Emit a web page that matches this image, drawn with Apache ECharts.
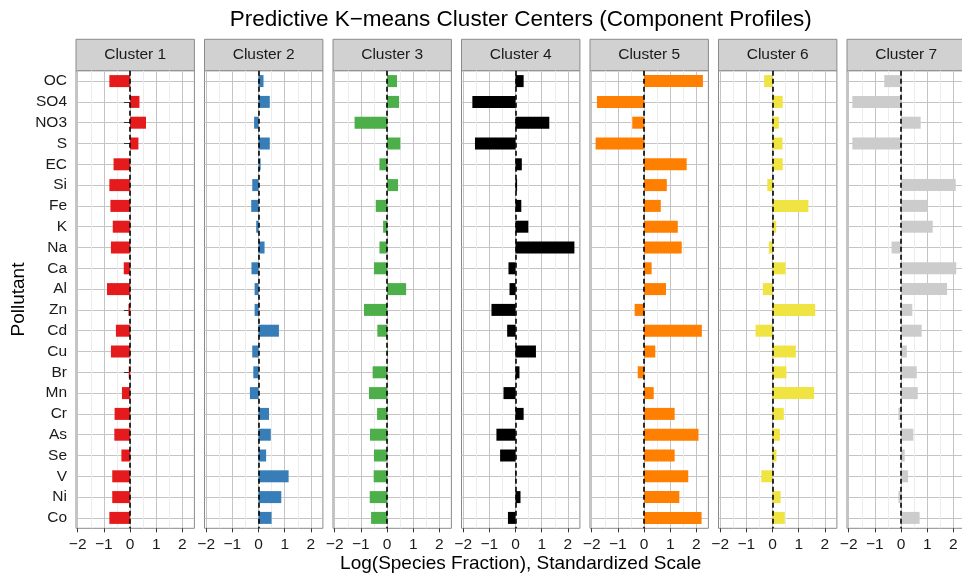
<!DOCTYPE html>
<html>
<head>
<meta charset="utf-8">
<script src="https://cdn.jsdelivr.net/npm/echarts@6/dist/echarts.min.js"></script>
<style>
html,body{margin:0;padding:0;background:#fff;overflow:hidden;width:962px;height:574px;}
#chart{width:972px;height:574px;}
</style>
</head>
<body>
<div id="chart"></div>
<script>
const pollutants = ['OC','SO4','NO3','S','EC','Si','Fe','K','Na','Ca','Al','Zn','Cd','Cu','Br','Mn','Cr','As','Se','V','Ni','Co'];
const clusterNames = ['Cluster 1','Cluster 2','Cluster 3','Cluster 4','Cluster 5','Cluster 6','Cluster 7'];
const cluster1 = [-0.79,0.36,0.61,0.32,-0.63,-0.79,-0.75,-0.66,-0.73,-0.24,-0.88,-0.06,-0.54,-0.73,-0.05,-0.31,-0.59,-0.60,-0.33,-0.68,-0.68,-0.79];
const cluster2 = [0.19,0.43,-0.17,0.43,0.08,-0.24,-0.28,-0.09,0.23,-0.27,-0.15,-0.15,0.78,-0.24,-0.20,-0.33,0.40,0.47,0.29,1.15,0.87,0.50];
const cluster3 = [0.38,0.46,-1.24,0.51,-0.29,0.42,-0.43,-0.15,-0.29,-0.50,0.73,-0.88,-0.37,0.03,-0.55,-0.69,-0.38,-0.65,-0.50,-0.51,-0.66,-0.61];
const cluster4 = [0.31,-1.65,1.29,-1.55,0.24,0.06,0.22,0.49,2.25,-0.27,-0.23,-0.92,-0.32,0.78,0.15,-0.46,0.31,-0.73,-0.59,0.02,0.19,-0.29];
const cluster5 = [2.25,-1.80,-0.45,-1.85,1.63,0.87,0.64,1.29,1.44,0.29,0.84,-0.36,2.21,0.43,-0.24,0.37,1.17,2.08,1.17,1.69,1.35,2.20];
const cluster6 = [-0.32,0.39,0.24,0.38,0.39,-0.20,1.37,0.14,-0.14,0.50,-0.37,1.63,-0.65,0.89,0.53,1.59,0.43,0.28,0.15,-0.43,0.31,0.47];
const cluster7 = [-0.64,-1.86,0.75,-1.86,0.01,2.09,1.02,1.21,-0.36,2.11,1.76,0.43,0.79,0.22,0.60,0.64,-0.10,0.47,0.14,0.27,-0.10,0.71];
const clusterValues = [cluster1,cluster2,cluster3,cluster4,cluster5,cluster6,cluster7];
const xTicks = [-2,-1,0,1,2];
const xMinorTicks = [-1.5,-0.5,0.5,1.5];

const colors = ['#E41A1C','#377EB8','#4DAF4A','#000000','#FF7F00','#F0E442','#CCCCCC'];
const FONT = 'Liberation Sans, Arial, Helvetica, sans-serif';
const panelLeft0 = 76, panelStep = 128.5, panelW = 118.4, panelTop = 70.7, panelH = 457.6;
const stripTop = 39.3;
const xMin = -2.065, xMax = 2.46;
const minus = v => (v < 0 ? '\u2212' + Math.abs(v) : String(v));

const grids = [], xAxes = [], yAxes = [], series = [], graphics = [];
clusterNames.forEach((name, i) => {
  const left = panelLeft0 + i * panelStep;
  grids.push({left: left, top: panelTop, width: panelW, height: panelH, show: true,
    borderColor: '#8a8a8a', borderWidth: 1, backgroundColor: '#fff', containLabel: false});
  xAxes.push({type: 'value', gridIndex: i, min: xMin, max: xMax,
    axisLine: {show: false},
    axisTick: {show: true, customValues: xTicks, length: 4, lineStyle: {color: '#333', width: 1}},
    axisLabel: {customValues: xTicks, formatter: minus, color: '#1a1a1a', fontSize: 15.5, fontFamily: FONT, margin: 8},
    splitLine: {show: true, lineStyle: {color: '#c4c4c4', width: 1}}
  });
  yAxes.push({type: 'category', gridIndex: i, data: pollutants, inverse: true,
    axisLine: {show: false},
    axisTick: {show: i === 0, alignWithLabel: true, length: 6, lineStyle: {color: '#333'}},
    axisLabel: {show: i === 0, color: '#1a1a1a', fontSize: 15.5, fontFamily: FONT, margin: 9},
    splitLine: {show: true, alignWithLabel: true, lineStyle: {color: '#c4c4c4', width: 1}}
  });
  // minor vertical grid lines (behind bars)
  series.push({type: 'bar', xAxisIndex: i, yAxisIndex: i, data: [], z: 1, silent: true,
    markLine: {silent: true, symbol: 'none', label: {show: false}, z: 1, animation: false,
      lineStyle: {color: '#ececec', width: 1, type: 'solid'},
      data: xMinorTicks.map(v => ({xAxis: v}))}
  });
  series.push({type: 'bar', xAxisIndex: i, yAxisIndex: i, data: clusterValues[i], barWidth: 12,
    itemStyle: {color: colors[i]}, z: 3, silent: true, animation: false,
    markLine: {silent: true, symbol: 'none', label: {show: false}, z: 5, animation: false,
      lineStyle: {color: '#000', width: 1.6, type: [5, 3]},
      data: [{xAxis: 0}]}
  });
  graphics.push({type: 'rect', shape: {x: left, y: stripTop, width: panelW, height: panelTop - stripTop},
    style: {fill: '#d1d1d1', stroke: '#8a8a8a', lineWidth: 1}, silent: true});
  graphics.push({type: 'text', x: left + panelW / 2, y: (stripTop + panelTop) / 2,
    style: {text: name, fill: '#1a1a1a', font: '15.5px ' + FONT, textAlign: 'center', textVerticalAlign: 'middle'}, silent: true});
});

const plotCenterX = (panelLeft0 + panelLeft0 + 6 * panelStep + panelW) / 2;
graphics.push({type: 'text', x: plotCenterX, y: 20,
  style: {text: 'Predictive K\u2212means Cluster Centers (Component Profiles)', fill: '#000', font: '22.5px ' + FONT, textAlign: 'center', textVerticalAlign: 'middle'}});
graphics.push({type: 'text', x: plotCenterX, y: 564,
  style: {text: 'Log(Species Fraction), Standardized Scale', fill: '#000', font: '19px ' + FONT, textAlign: 'center', textVerticalAlign: 'middle'}});
graphics.push({type: 'text', x: 19, y: panelTop + panelH / 2, rotation: Math.PI / 2,
  style: {text: 'Pollutant', fill: '#000', font: '19px ' + FONT, textAlign: 'center', textVerticalAlign: 'middle'}});

const chart = echarts.init(document.getElementById('chart'), null, {renderer: 'canvas'});
chart.setOption({
  animation: false,
  grid: grids, xAxis: xAxes, yAxis: yAxes, series: series, graphic: graphics
});
</script>
</body>
</html>
